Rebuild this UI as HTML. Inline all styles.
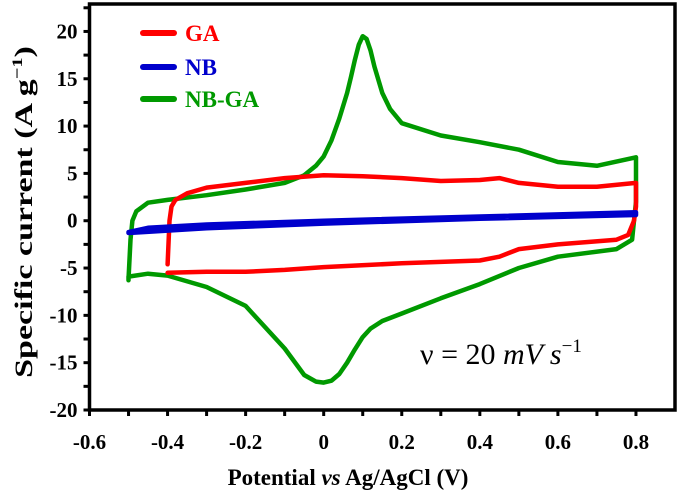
<!DOCTYPE html>
<html><head><meta charset="utf-8"><style>
html,body{margin:0;padding:0;background:#fff;}
svg{display:block;font-family:"Liberation Serif",serif;}
</style></head><body>
<svg id="chart" width="680" height="492" viewBox="0 0 680 492" xmlns="http://www.w3.org/2000/svg">
<g id="plot"></g>
<g id="axes"></g>
<text transform="translate(32,212) rotate(-90) scale(1.36,1)" text-anchor="middle" font-size="25" font-weight="bold">Specific current (A g<tspan dy="-10" font-size="15">−1</tspan><tspan dy="10">)</tspan></text>
<text x="348" y="485" text-anchor="middle" font-size="23" font-weight="bold">Potential <tspan font-style="italic">vs</tspan> Ag/AgCl (V)</text>
<g>
<line x1="143" y1="33" x2="174" y2="33" stroke="#ff0000" stroke-width="6" stroke-linecap="round"/>
<text x="185" y="41" font-size="23" font-weight="bold" fill="#ff0000">GA</text>
<line x1="143" y1="67" x2="174" y2="67" stroke="#0000cc" stroke-width="6" stroke-linecap="round"/>
<text x="185" y="75" font-size="23" font-weight="bold" fill="#0000cc">NB</text>
<line x1="143" y1="99" x2="174" y2="99" stroke="#009900" stroke-width="6" stroke-linecap="round"/>
<text x="185" y="107" font-size="23" font-weight="bold" fill="#009900">NB-GA</text>
</g>
<text x="420" y="364" font-size="30">ν = 20 <tspan font-style="italic">mV s</tspan><tspan dy="-12" font-size="19">−1</tspan></text>
</svg>
<script>
const xTicks=[-0.6,-0.4,-0.2,0,0.2,0.4,0.6,0.8];
const xTickLabels=["-0.6","-0.4","-0.2","0","0.2","0.4","0.6","0.8"];
const yTicks=[-20,-15,-10,-5,0,5,10,15,20];
const yTickLabels=["-20","-15","-10","-5","0","5","10","15","20"];
const gaX=[-0.4,-0.395,-0.39,-0.38,-0.35,-0.3,-0.2,-0.1,0,0.1,0.2,0.3,0.4,0.45,0.5,0.6,0.7,0.8,0.8,0.795,0.78,0.75,0.6,0.5,0.45,0.4,0.2,0,-0.1,-0.2,-0.3,-0.4];
const gaY=[-4.6,0.0,1.5,2.2,2.9,3.5,4.0,4.5,4.8,4.7,4.5,4.2,4.3,4.5,4.0,3.6,3.6,4.0,1.5,0,-1.5,-2.0,-2.5,-3.0,-3.8,-4.2,-4.5,-4.9,-5.2,-5.4,-5.4,-5.5];
const nbX=[-0.5,-0.45,-0.3,0,0.4,0.8,0.8,0.4,0,-0.3,-0.5];
const nbY=[-1.2,-0.75,-0.4,0.0,0.45,0.9,0.6,0.2,-0.3,-0.8,-1.3];
const nbgaX=[-0.5,-0.495,-0.49,-0.48,-0.45,-0.4,-0.3,-0.2,-0.1,-0.05,-0.02,0,0.02,0.04,0.06,0.07,0.08,0.09,0.1,0.11,0.12,0.13,0.15,0.17,0.2,0.3,0.4,0.5,0.6,0.7,0.8,0.8,0.795,0.79,0.75,0.6,0.5,0.4,0.3,0.2,0.15,0.12,0.1,0.08,0.06,0.04,0.02,0,-0.02,-0.05,-0.1,-0.2,-0.3,-0.4,-0.45,-0.5,-0.5];
const nbgaY=[-6.2,-2.0,0.0,1.0,1.9,2.2,2.7,3.3,4.0,4.8,5.8,6.8,8.5,10.8,13.5,15.2,17.0,18.6,19.5,19.2,18.0,16.3,13.5,11.8,10.3,9.0,8.3,7.5,6.2,5.8,6.7,2.0,0.0,-2.0,-3.0,-3.8,-5.0,-6.7,-8.2,-9.8,-10.6,-11.4,-12.3,-13.6,-15.0,-16.2,-16.9,-17.1,-17.0,-16.3,-13.5,-9.0,-7.0,-5.8,-5.6,-5.9,-6.3];

const X0=89.5,X1=675,Y0=410,Y1=4;
const xMin=-0.6,xMax=0.9,yMin=-20,yMax=22.9;
const sx=v=>X0+(v-xMin)/(xMax-xMin)*(X1-X0);
const sy=v=>Y0-(v-yMin)/(yMax-yMin)*(Y0-Y1);
const NS="http://www.w3.org/2000/svg";
const plot=document.getElementById('plot'),axes=document.getElementById('axes');
function mk(t,a,p){const e=document.createElementNS(NS,t);for(const k in a)e.setAttribute(k,a[k]);p.appendChild(e);return e;}

function series(xs,ys,color,name){
  let d=xs.map((x,i)=>(i?'L':'M')+sx(x).toFixed(1)+','+sy(ys[i]).toFixed(1)).join(' ');
  const p=mk('path',{d:d,fill:'none',stroke:color,'stroke-width':4.5,'stroke-linejoin':'round','stroke-linecap':'round'},plot);
  
  
}
series(nbgaX,nbgaY,'#009900','series-nb-ga');
series(gaX,gaY,'#ff0000','series-ga');
series(nbX,nbY,'#0000cc','series-nb');

const frame=mk('rect',{x:X0,y:Y1,width:X1-X0,height:Y0-Y1,fill:'none',stroke:'#000','stroke-width':3.5},axes);



for(let v=-0.6;v<=0.81;v+=0.1){
  const t=mk('line',{x1:sx(v),x2:sx(v),y1:Y0,y2:Y0+6,stroke:'#000','stroke-width':3},axes);
  
  
}
xTicks.forEach((v,i)=>{
  const t=mk('text',{x:sx(v),y:449,'text-anchor':'middle','font-size':21,'font-weight':'bold'},axes);
  t.textContent=xTickLabels[i];
  
  
});
for(let v=-20;v<=22.6;v+=2.5){
  const t=mk('line',{x1:X0-6,x2:X0,y1:sy(v),y2:sy(v),stroke:'#000','stroke-width':3},axes);
  
  
}
yTicks.forEach((v,i)=>{
  const t=mk('text',{x:X0-12,y:sy(v)+7,'text-anchor':'end','font-size':21,'font-weight':'bold'},axes);
  t.textContent=yTickLabels[i];
  
  
});
</script>
</body></html>
